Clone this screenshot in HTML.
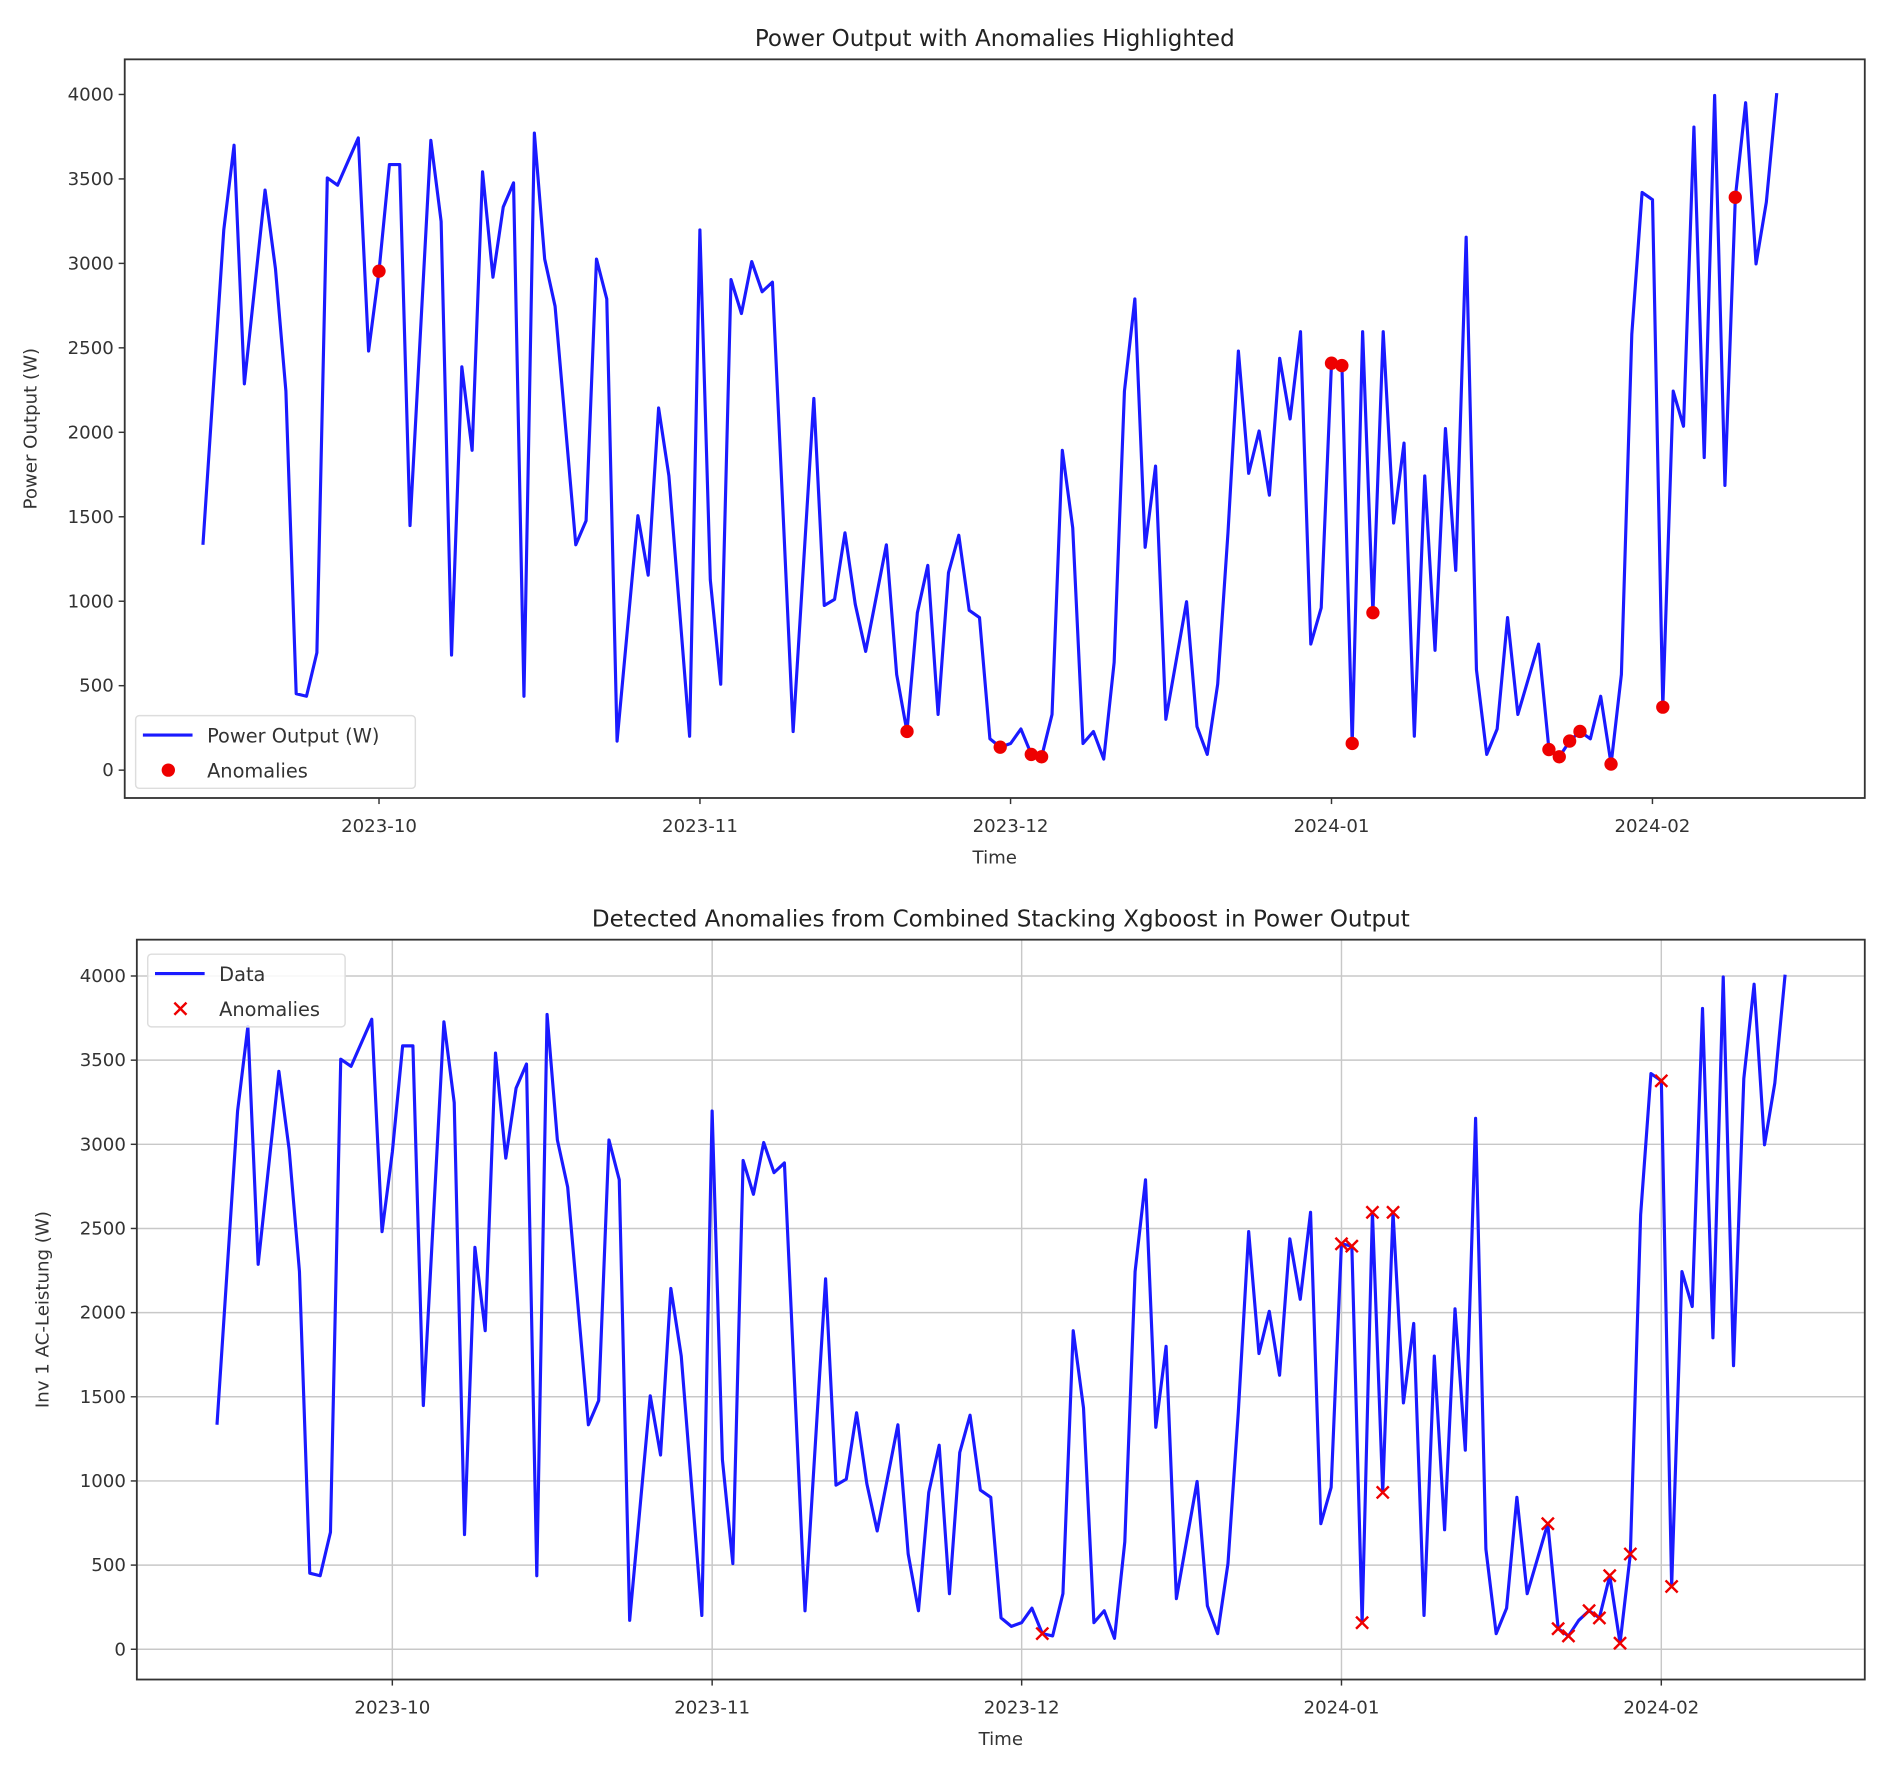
<!DOCTYPE html>
<html><head><meta charset="utf-8"><style>
html,body{margin:0;padding:0;background:#fff;}
svg{display:block;font-family:"DejaVu Sans","Liberation Sans",sans-serif;}
</style></head><body>
<svg id="chart" width="1889" height="1766" viewBox="0 0 1560 1458.4" xmlns="http://www.w3.org/2000/svg">
<rect width="1560" height="1458.4" fill="#fff"/>
<g id="top"></g>
<g id="bot"></g>
</svg>
<script>
// day offsets from 2023-10-01
const dayOffsets = [-17,-15,-14,-13,-11,-10,-9,-8,-7,-6,-5,-4,-2,-1,0,1,2,3,5,6,7,8,9,10,11,12,13,14,15,16,17,19,20,21,22,23,25,26,27,28,30,31,32,33,34,35,36,37,38,40,42,43,44,45,46,47,49,50,51,52,53,54,55,56,57,58,59,60,61,62,63,64,65,66,67,68,69,70,71,72,73,74,75,76,78,79,80,81,82,83,84,85,86,87,88,89,90,91,92,93,94,95,96,97,98,99,100,101,102,103,104,105,106,107,108,109,110,112,113,114,115,116,117,118,119,120,121,122,123,124,125,126,127,128,129,130,131,132,133,134,135];
const powerValues = [1334,3198,3700,2287,3434,2968,2244,452,437,695,3506,3463,3743,2481,2954,3585,3585,1448,3728,3248,681,2388,1893,3542,2918,3334,3477,437,3771,3026,2746,1334,1477,3026,2789,172,1506,1154,2144,1742,201,3198,1126,509,2904,2703,3011,2832,2889,229,2201,975,1011,1405,982,703,1334,566,229,932,1212,330,1169,1391,946,903,186,136,158,244,93,79,330,1893,1434,158,229,65,638,2244,2789,1319,1800,301,997,258,93,509,1405,2481,1757,2008,1628,2438,2079,2596,746,961,2409,2395,158,2596,932,2596,1463,1936,201,1742,710,2022,1183,3155,595,93,244,903,330,746,122,79,172,229,186,437,36,566,2581,3420,3377,373,2244,2036,3807,1850,3994,1685,3391,3951,2997,3363,4008];
const topAnomalyDays = [0,51,60,63,64,92,93,94,96,113,114,115,116,119,124,131];
const bottomAnomalyDays = [63,92,93,94,95,96,97,112,113,114,116,117,118,119,120,123,124];
const yTicks = [0,500,1000,1500,2000,2500,3000,3500,4000];
const xTickLabels = ["2023-10","2023-11","2023-12","2024-01","2024-02"];
const xTickDays = [0,31,61,92,123];

const NS="http://www.w3.org/2000/svg";
function mk(parent,tag,attrs,text){const e=document.createElementNS(NS,tag);for(const k in attrs)e.setAttribute(k,attrs[k]);if(text!==undefined)e.textContent=text;parent.appendChild(e);return e;}

function drawChart(g,cfg){
  const xs=d=>cfg.x0+d*cfg.dx;
  const ys=v=>cfg.y0-v*(cfg.y0-cfg.y4000)/4000;
  if(cfg.grid){
    xTickDays.forEach(d=>{const l=mk(g,'line',{x1:xs(d),x2:xs(d),y1:cfg.top,y2:cfg.bottom,stroke:'#c8c8c8','stroke-width':1.2});
      
      });
    yTicks.forEach(v=>{const l=mk(g,'line',{x1:cfg.left,x2:cfg.right,y1:ys(v),y2:ys(v),stroke:'#c8c8c8','stroke-width':1.2});
      
      });
  }
  const pts=dayOffsets.map((d,i)=>xs(d).toFixed(1)+','+ys(powerValues[i]).toFixed(1)).join(' ');
  const pl=mk(g,'polyline',{points:pts,fill:'none',stroke:'#1a1aff','stroke-width':2.6,'stroke-linejoin':'round'});
  
  
  cfg.anoms.forEach(d=>{
    const i=dayOffsets.indexOf(d); if(i<0) return;
    const x=xs(d), y=ys(powerValues[i]);
    if(cfg.marker==='dot'){
      const c=mk(g,'circle',{cx:x,cy:y,r:5.5,fill:'#ee0000'});
      
      
    } else {
      const p=mk(g,'path',{d:`M${x-5},${y-5}L${x+5},${y+5}M${x-5},${y+5}L${x+5},${y-5}`,stroke:'#ee0000','stroke-width':2});
      
      
    }
  });
  const fr=mk(g,'rect',{x:cfg.left,y:cfg.top,width:cfg.right-cfg.left,height:cfg.bottom-cfg.top,fill:'none',stroke:'#333','stroke-width':1.5});
  
  
  yTicks.forEach(v=>{
    mk(g,'line',{x1:cfg.left-5,x2:cfg.left,y1:ys(v),y2:ys(v),stroke:'#333','stroke-width':1.2});
    const t=mk(g,'text',{x:cfg.left-9,y:ys(v)+5,'text-anchor':'end','font-size':15,fill:'#333'},String(v));
    
    
  });
  xTickDays.forEach((d,i)=>{
    mk(g,'line',{x1:xs(d),x2:xs(d),y1:cfg.bottom,y2:cfg.bottom+5,stroke:'#333','stroke-width':1.2});
    const t=mk(g,'text',{x:xs(d),y:cfg.bottom+28,'text-anchor':'middle','font-size':15,fill:'#333'},xTickLabels[i]);
    
    
  });
  const title=mk(g,'text',{x:(cfg.left+cfg.right)/2,y:cfg.top-11,'text-anchor':'middle','font-size':19,fill:'#222'},cfg.title);
  
  
  const xl=mk(g,'text',{x:(cfg.left+cfg.right)/2,y:cfg.bottom+54,'text-anchor':'middle','font-size':15,fill:'#333'},'Time');
  
  
  const yc=(cfg.top+cfg.bottom)/2;
  const yl=mk(g,'text',{x:cfg.ylabX,y:yc,'text-anchor':'middle','font-size':15,fill:'#333',transform:`rotate(-90 ${cfg.ylabX} ${yc})`},cfg.ylabel);
  
  
  const L=cfg.legend;
  const lg=mk(g,'g',{});
  
  
  mk(lg,'rect',{x:L.x,y:L.y,width:L.w,height:60,rx:3,fill:'#fff','fill-opacity':0.85,stroke:'#ddd','stroke-width':1.2});
  mk(lg,'line',{x1:L.x+6,x2:L.x+47,y1:L.y+16,y2:L.y+16,stroke:'#1a1aff','stroke-width':2.6});
  mk(lg,'text',{x:L.x+59,y:L.y+22,'font-size':16,fill:'#333'},L.label);
  const mx=L.x+27,my=L.y+45;
  if(cfg.marker==='dot') mk(lg,'circle',{cx:mx,cy:my,r:5.5,fill:'#ee0000'});
  else mk(lg,'path',{d:`M${mx-5},${my-5}L${mx+5},${my+5}M${mx-5},${my+5}L${mx+5},${my-5}`,stroke:'#ee0000','stroke-width':2});
  mk(lg,'text',{x:L.x+59,y:L.y+51,'font-size':16,fill:'#333'},'Anomalies');
}

drawChart(document.getElementById('top'),{left:103,right:1540,top:49,bottom:659,x0:313,dx:8.55,y0:636,y4000:78,
  anoms:topAnomalyDays,marker:'dot',grid:false,title:'Power Output with Anomalies Highlighted',ylabel:'Power Output (W)',ylabX:30,
  legend:{x:112,y:591,w:231,label:'Power Output (W)'}});
drawChart(document.getElementById('bot'),{left:113,right:1540,top:776,bottom:1387,x0:324,dx:8.52,y0:1362,y4000:806,
  anoms:bottomAnomalyDays,marker:'x',grid:true,title:'Detected Anomalies from Combined Stacking Xgboost in Power Output',ylabel:'Inv 1 AC-Leistung (W)',ylabX:40,
  legend:{x:122,y:788,w:163,label:'Data'}});
</script>
</body></html>
